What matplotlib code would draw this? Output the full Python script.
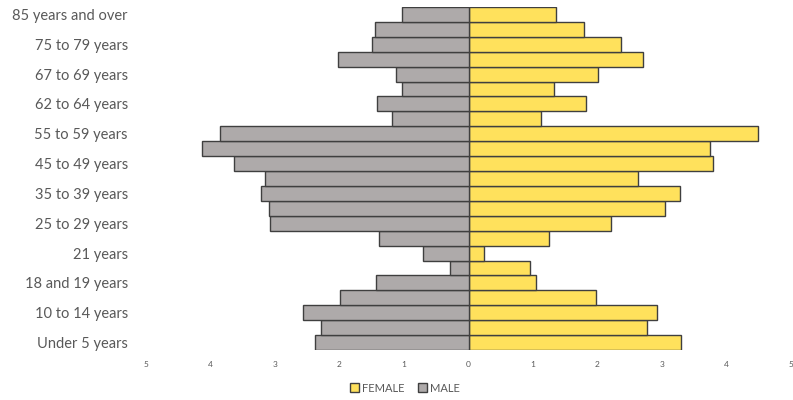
import numpy as np
import matplotlib
matplotlib.use("Agg")
from matplotlib import pyplot as plt
from matplotlib.patches import Patch

# Age groups, youngest first
ages = ["Under 5 years", "5 to 9 years", "10 to 14 years", "15 to 17 years",
        "18 and 19 years", "20 years", "21 years", "22 to 24 years",
        "25 to 29 years", "30 to 34 years", "35 to 39 years", "40 to 44 years",
        "45 to 49 years", "50 to 54 years", "55 to 59 years", "60 and 61 years",
        "62 to 64 years", "65 and 66 years", "67 to 69 years", "70 to 74 years",
        "75 to 79 years", "80 to 84 years", "85 years and over"]

# Share of population (%), same order as ages
male = [2.38, 2.29, 2.56, 2.00, 1.44, 0.29, 0.71, 1.38, 3.07, 3.10, 3.21, 3.15,
        3.63, 4.13, 3.86, 1.18, 1.42, 1.03, 1.12, 2.03, 1.49, 1.45, 1.03]
female = [3.30, 2.77, 2.92, 1.97, 1.05, 0.96, 0.24, 1.25, 2.21, 3.04, 3.28, 2.63,
          3.79, 3.75, 4.49, 1.12, 1.82, 1.33, 2.00, 2.71, 2.37, 1.79, 1.36]

x_ticks = [-5, -4, -3, -2, -1, 0, 1, 2, 3, 4, 5]

female_color = "#FFE15C"
male_color = "#AEAAAA"
edge = "#3F3F3F"
text_grey = "#595959"

plt.rcParams['font.family'] = ['Lato', 'DejaVu Sans']

fig = plt.figure(figsize=(7.93, 4.0), dpi=100)
ax = fig.add_axes([146 / 793, 1 - 350 / 400, 645 / 793, 343 / 400])

y = np.arange(len(ages))
ax.barh(y, female, height=1.0, color=female_color, edgecolor=edge, linewidth=1.0)
ax.barh(y, -np.array(male), height=1.0, color=male_color, edgecolor=edge, linewidth=1.0)

ax.set_xlim(-5, 5)
ax.set_ylim(-0.5, len(ages) - 0.5)

ax.set_yticks(y[::2])
ax.set_yticklabels(ages[::2], fontsize=10.5, color=text_grey)
ax.set_xticks(x_ticks)
ax.set_xticklabels([str(abs(t)) for t in x_ticks], fontsize=6, color=text_grey)
ax.tick_params(axis='both', length=0)
ax.tick_params(axis='x', pad=8)
ax.tick_params(axis='y', pad=13)

for side in ax.spines.values():
    side.set_visible(False)

handles = [Patch(facecolor=female_color, edgecolor=edge, label="FEMALE"),
           Patch(facecolor=male_color, edgecolor=edge, label="MALE")]
fig.legend(handles=handles, loc='center', bbox_to_anchor=(405 / 793, 1 - 388 / 400),
           ncol=2, frameon=False, fontsize=8, handlelength=0.8, handleheight=0.8,
           handletextpad=0.3, columnspacing=1.2, labelcolor=text_grey)

fig.savefig("out.png", dpi=100)
